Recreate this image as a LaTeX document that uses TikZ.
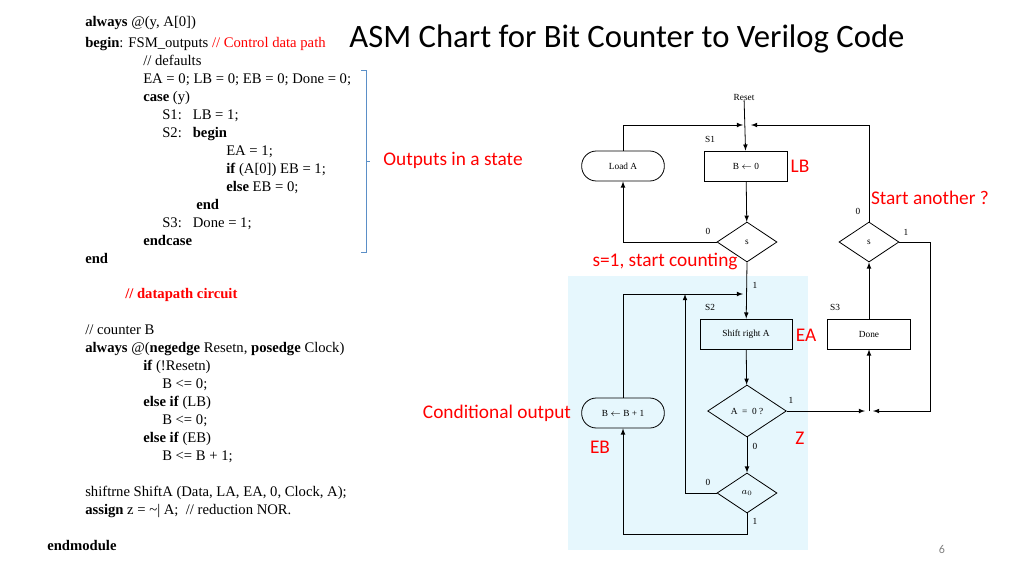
\documentclass[tikz,border=0pt]{standalone}
\usepackage{fontspec}
\setmainfont{Liberation Serif}
\newfontfamily\slidefont{Carlito}
\usetikzlibrary{positioning,calc,arrows,shapes}
\definecolor{bracketblue}{HTML}{5B8FC7}

\begin{document}
\begin{tikzpicture}[
        x=0.75pt, y=-0.75pt,
        >=latex,
        code/.style={anchor=base west, font=\fontsize{11}{12}\selectfont, inner sep=0},
        note/.style={font=\slidefont\fontsize{14.5}{15}\selectfont\color{red}, inner sep=0},
        chart/.style={font=\fontsize{7}{8}\selectfont, inner sep=0},
        box/.style={draw, semithick, chart, minimum width=62pt, minimum height=22.5pt},
        oval/.style={box, rounded corners=11pt},
        test/.style={draw, semithick, chart, shape=diamond, minimum width=45pt, minimum height=30pt},
        flow/.style={semithick}
      ]
      \useasboundingbox (0,0) rectangle (1024,576);
      \fill[cyan!10] (568,276) rectangle (808,550);

      % title
      \node[anchor=base, font=\slidefont\fontsize{24.5}{25}\selectfont] (title) at (627,47) {ASM Chart for Bit Counter to Verilog Code};

      % FSM outputs code
      \node[code] (c1) at (85,26) {\textbf{always} @(y, A[0])};
      \node[code] (c2) at (85,47) {\textbf{begin}: FSM\_outputs \textcolor{red}{// Control data path}};
      \node[code] (c3) at (143,65) {// defaults};
      \node[code] (c4) at (143,83) {EA = 0; LB = 0; EB = 0; Done = 0;};
      \node[code] (c5) at (143,101) {\textbf{case} (y)};
      \node[code] (c6) at (162,119) {S1:\ \ \ LB = 1;};
      \node[code] (c7) at (162,137) {S2:\ \ \ \textbf{begin}};
      \node[code] (c8) at (226,155) {EA = 1;};
      \node[code] (c9) at (226,173) {\textbf{if} (A[0]) EB = 1;};
      \node[code] (c10) at (226,191) {\textbf{else} EB = 0;};
      \node[code] (c11) at (196,209) {\textbf{end}};
      \node[code] (c12) at (162,227) {S3:\ \ \ Done = 1;};
      \node[code] (c13) at (143,245) {\textbf{endcase}};
      \node[code] (c14) at (85,263) {\textbf{end}};

      % datapath code
      \node[code, text=red] (d0) at (125,298) {\textbf{// datapath circuit}};
      \node[code] (d1) at (85,334) {// counter B};
      \node[code] (d2) at (85,352) {\textbf{always} @(\textbf{negedge} Resetn, \textbf{posedge} Clock)};
      \node[code] (d3) at (143,370) {\textbf{if} (!Resetn)};
      \node[code] (d4) at (162,388) {B <= 0;};
      \node[code] (d5) at (143,406) {\textbf{else if} (LB)};
      \node[code] (d6) at (162,424) {B <= 0;};
      \node[code] (d7) at (143,442) {\textbf{else if} (EB)};
      \node[code] (d8) at (162,460) {B <= B + 1;};
      \node[code] (d9) at (85,496) {shiftrne ShiftA (Data, LA, EA, 0, Clock, A);};
      \node[code] (d10) at (85,514) {\textbf{assign} z = \textasciitilde| A;\ \ // reduction NOR.};
      \node[code] (d11) at (47,550) {\textbf{endmodule}};

      % bracket
      \draw[bracketblue, semithick] (361,70) -- (366,70) -- (366,252) -- (361,252)
        (366,161) -- (370,161);

      % chart
      \node[chart] (reset) at (744,97) {Reset};
      \node[box] (clrB) at (746,166) {B $\leftarrow$ 0};
      \node[oval] (loadA) at (623,166) {Load A};
      \node[test] (sOne) at (747,242) {s};
      \node[test] (sTwo) at (869,242) {s};
      \node[box, minimum width=69pt] (shiftA) at (746,334) {Shift right A};
      \node[box] (done) at (869,334) {Done};
      \node[test, minimum width=59pt, minimum height=39pt] (aZero) at (747,411) {A\ \ =\ \ 0 ?};
      \node[test] (aBit) at (747,493) {$a_0$};
      \node[oval] (incB) at (623,413) {B $\leftarrow$ B + 1};

      \coordinate (top) at (747,125);
      \coordinate (mid) at (747,294);
      \coordinate (low) at (869,411);

      \draw[flow,->] (reset) -- (clrB);
      \draw[flow,->] (loadA.north) |- ($(top)+(-4,0)$);
      \draw[flow,->] (sTwo.north) |- ($(top)+(4,0)$);
      \draw[flow,->] (clrB) -- (sOne);
      \draw[flow,->] (sOne.west) -| (loadA.south);
      \draw[flow,->] (sOne.south) -- (shiftA);
      \draw[flow,->] (incB.north) |- ($(mid)+(-4,0)$);
      \draw[flow,->] (aBit.west) -| (685,294);
      \draw[flow,->] (shiftA) -- (aZero);
      \draw[flow,->] (aZero) -- (aBit);
      \draw[flow,->] (aZero.east) -- ($(low)+(-4,0)$);
      \draw[flow,->] (sTwo.east) -| (930,411) -- ($(low)+(4,0)$);
      \draw[flow,->] (low) -- (done);
      \draw[flow,->] (done) -- (sTwo);
      \draw[flow,->] (aBit.south) -- (747,534) -| (incB.south);

      % chart labels
      \node[chart] (lS1) at (710,139) {S1};
      \node[chart] (lS2) at (710,307) {S2};
      \node[chart] (lS3) at (835,307) {S3};
      \node[chart] (o1) at (708,231) {0};
      \node[chart] (o2) at (858,211) {0};
      \node[chart] (o3) at (906,232) {1};
      \node[chart] (o4) at (755,285) {1};
      \node[chart] (o5) at (791,400) {1};
      \node[chart] (o6) at (755,446) {0};
      \node[chart] (o7) at (708,482) {0};
      \node[chart] (o8) at (755,521) {1};

      % notes
      \node[note] (nLB) at (800,166) {LB};
      \node[note] (nEA) at (806,335) {EA};
      \node[note] (nZ) at (800,438) {Z};
      \node[note] (nEB) at (600,447) {EB};
      \node[note] (nStart) at (930,198) {Start another ?};
      \node[note] (nCount) at (665,261) {s=1, start counting};
      \node[note] (nCond) at (497,413) {Conditional output};
      \node[note] (nOut) at (453,160) {Outputs in a state};
      \node[font=\slidefont\small, text=gray] (page) at (942,549) {6};
    \end{tikzpicture}
\end{document}
